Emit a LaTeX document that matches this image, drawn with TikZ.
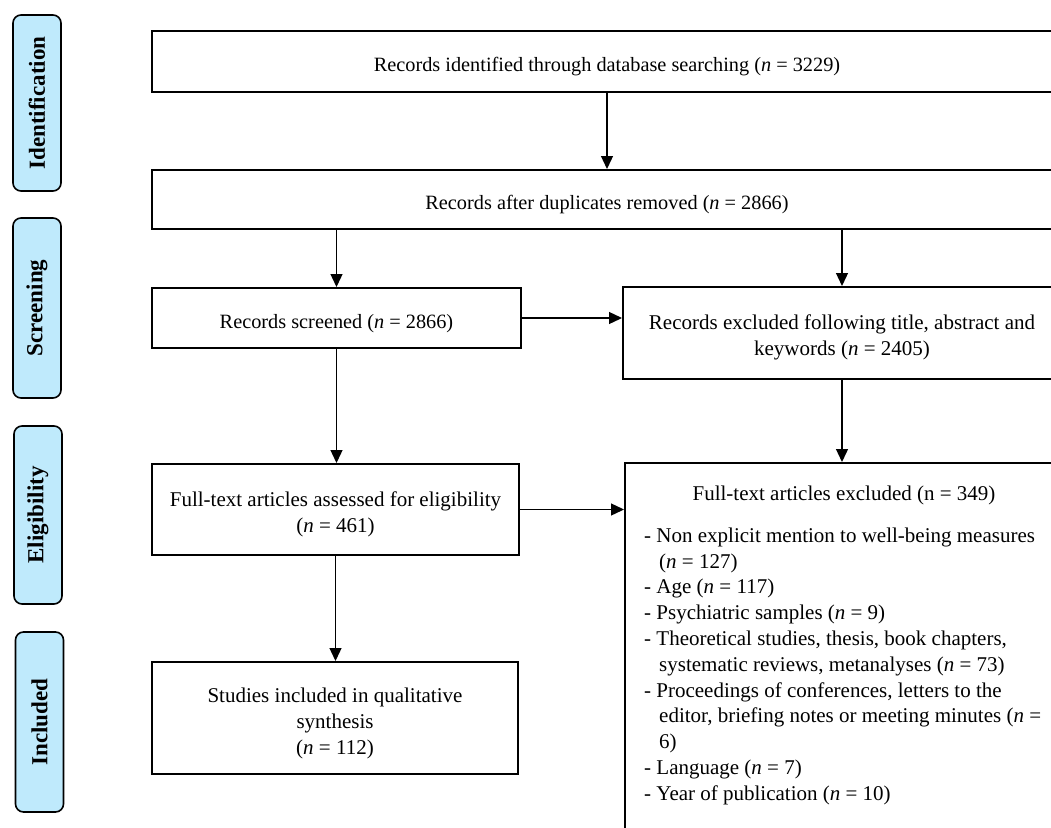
\documentclass[tikz,border=0pt]{standalone}
\usepackage{fontspec}
\setmainfont{Liberation Serif}
\usetikzlibrary{arrows.meta,calc}
\definecolor{stageblue}{RGB}{191,234,252}
\newcommand\lowr{\rule{0pt}{25pt}}
\begin{document}
\begin{tikzpicture}[x=1pt,y=-1pt,
  font=\fontsize{21}{25.8}\selectfont,
  box/.style={draw=black, line width=2pt, fill=white, inner sep=0pt, align=center},
  narrow/.style={font=\fontsize{20.3}{25.8}\selectfont},
  stage/.style={draw=black, line width=1.6pt, fill=stageblue, rounded corners=8pt,
    minimum width=48pt, minimum height=176pt, inner sep=0pt},
  stagetext/.style={rotate=90, font=\fontsize{23}{25}\selectfont\bfseries},
  arr/.style={line width=1.3pt, -{Triangle[length=13pt,width=12pt]}}]
\useasboundingbox (0,0) rectangle (1051,827);
% stage labels
\node[stage] (s1) at (37,103) {};
\node[stagetext] (s1t) at (s1.center) {Identification};
\node[stage, minimum height=180pt] (s2) at (37,308) {};
\node[stagetext] (s2t) at (s2.center) {Screening};
\node[stage, minimum height=178pt] (s3) at (38,515) {};
\node[stagetext] (s3t) at (s3.center) {Eligibility};
\node[stage, minimum height=180pt] (s4) at (39.5,722) {};
\node[stagetext] (s4t) at (s4.center) {Included};
% boxes
\node[box, narrow, minimum width=910pt, minimum height=61pt] (b1) at (607,61.5)
  {\lowr Records identified through database searching (\textit{n} = 3229)};
\node[box, narrow, minimum width=910pt, minimum height=59pt] (b2) at (607,199.5)
  {\lowr Records after duplicates removed (\textit{n} = 2866)};
\node[box, narrow, minimum width=369pt, minimum height=60pt] (b3) at (336.5,318)
  {\lowr Records screened (\textit{n} = 2866)};
\node[box, minimum width=438pt, minimum height=92pt] (b4) at (842,333)
  {};
\node[align=center, inner sep=0pt] (b4t) at (842,337)
  {Records excluded following title, abstract and\\keywords (\textit{n} = 2405)};
\node[box, minimum width=367pt, minimum height=91pt] (b5) at (335.5,509.5)
  {\lowr Full-text articles assessed for eligibility\\(\textit{n} = 461)};
\node[box, minimum width=434pt, minimum height=387pt] (b6) at (842,656.5) {};
\node[anchor=base, inner sep=0pt] (b6t) at (844,500)
  {Full-text articles excluded (n = 349)};
\node[anchor=north west, align=left, inner sep=0pt] (b6l) at (644,527.5)
  {- Non explicit mention to well-being measures\\
   \hspace*{15pt}(\textit{n} = 127)\\
   - Age (\textit{n} = 117)\\
   - Psychiatric samples (\textit{n} = 9)\\
   - Theoretical studies, thesis, book chapters,\\
   \hspace*{15pt}systematic reviews, metanalyses (\textit{n} = 73)\\
   - Proceedings of conferences, letters to the\\
   \hspace*{15pt}editor, briefing notes or meeting minutes (\textit{n} =\\
   \hspace*{15pt}6)\\
   - Language (\textit{n} = 7)\\
   - Year of publication (\textit{n} = 10)};
\node[box, minimum width=366pt, minimum height=112pt] (b7) at (335,718)
  {\lowr Studies included in qualitative\\synthesis\\(\textit{n} = 112)};
% connectors
\draw[arr] (b1) -- (b2);
\draw[arr] (b2.south -| b3.north) -- (b3.north);
\draw[arr] (b2.south -| b4.north) -- (b4.north);
\draw[arr] (b3.east) -- (b3.east -| b4.west);
\draw[arr] (b3.south) -- (b3.south |- b5.north);
\draw[arr] (b4.south) -- (b4.south |- b6.north);
\draw[arr] (b5.east) -- (b5.east -| b6.west);
\draw[arr] (b5.south) -- (b5.south |- b7.north);
\end{tikzpicture}
\end{document}
